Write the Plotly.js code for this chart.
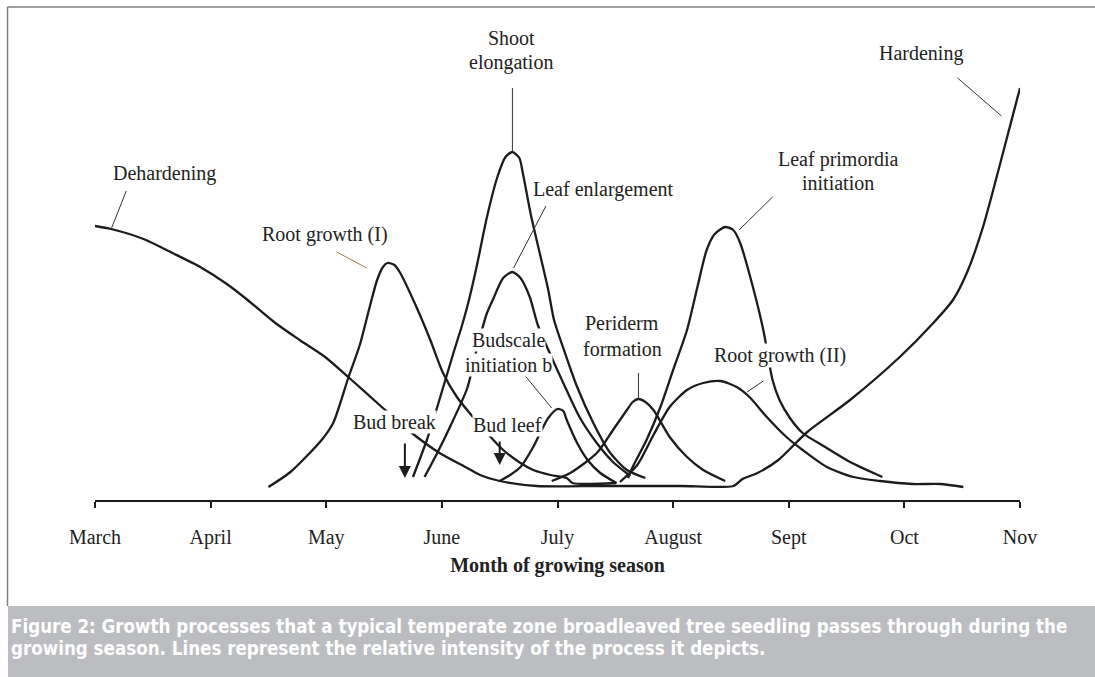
<!DOCTYPE html>
<html>
<head>
<meta charset="utf-8">
<script src="https://cdn.plot.ly/plotly-3.0.1.min.js"></script>
<style>
  html, body { margin: 0; padding: 0; background: #fff; }
  #chart { width: 1095px; height: 677px; }
</style>
</head>
<body>
<div id="chart"></div>
<script>
// months: March = 3 ... Nov = 11, level = relative intensity
const monthTicks = [3, 4, 5, 6, 7, 8, 9, 10, 11];
const monthNames = ['March', 'April', 'May', 'June', 'July', 'August', 'Sept', 'Oct', 'Nov'];

// dehardening -> hardening (one line)
const hardinessMonth = [3.00, 3.14, 3.42, 3.67, 3.91, 4.14, 4.32, 4.56, 4.77, 4.99, 5.19, 5.48, 5.74, 5.98, 6.22, 6.33, 6.50, 6.82, 7.37, 8.06, 8.52, 8.60, 8.73, 8.91, 9.16, 9.53, 9.96, 10.25, 10.42, 10.54, 10.68, 10.83, 11.00];
const hardinessLevel = [68.5, 67.75, 65.25, 61.75, 58.25, 54, 50, 44.25, 40, 35.75, 30.75, 23.25, 16.75, 11.75, 8, 6.25, 4.75, 3.5, 3.5, 3.5, 3.5, 5.25, 6.75, 10, 17, 25, 35.75, 44.25, 50, 56.75, 68.25, 84.25, 103];

const rootOneMonth = [4.50, 4.69, 4.96, 5.06, 5.19, 5.29, 5.38, 5.44, 5.49, 5.53, 5.59, 5.64, 5.78, 5.90, 6.01, 6.13, 6.24, 6.39, 6.53, 6.68, 6.79, 6.94, 7.08, 7.13, 7.51];
const rootOneLevel = [3.25, 7, 15, 19.25, 30.5, 38.75, 48.75, 55, 58.25, 59.25, 58.75, 56.75, 48.25, 40, 31.75, 25.75, 21.75, 16.75, 12.5, 9.25, 7.5, 6.25, 5.5, 4.25, 4.25];

const shootMonth = [5.75, 5.87, 5.96, 6.10, 6.17, 6.23, 6.30, 6.39, 6.48, 6.55, 6.61, 6.67, 6.70, 6.77, 6.85, 6.92, 6.97, 7.05, 7.17, 7.31, 7.45, 7.60, 7.76];
const shootLevel = [5.75, 15, 23.25, 36.75, 43.25, 49.5, 58.25, 70.75, 80.75, 85.75, 87, 85.5, 81.75, 71.25, 61.25, 52.5, 45, 38, 28.25, 19.25, 12, 7.5, 5.5];

const leafEnlargeMonth = [5.85, 5.96, 6.07, 6.22, 6.30, 6.39, 6.44, 6.53, 6.61, 6.68, 6.76, 6.83, 6.94, 7.05, 7.19, 7.34, 7.48, 7.63];
const leafEnlargeLevel = [5.75, 11.75, 18.25, 28, 37.5, 46.75, 50, 55.5, 57, 55.5, 50.75, 43.75, 36.25, 29.25, 20.75, 14.25, 9.5, 6];

const budscaleMonth = [6.50, 6.59, 6.68, 6.79, 6.85, 6.92, 7.00, 7.05, 7.08, 7.17, 7.26, 7.37, 7.51];
const budscaleLevel = [4.75, 6.25, 8.25, 13.25, 16.75, 20.5, 22.75, 22.25, 20, 14.25, 10, 6.75, 4.25];

const peridermMonth = [6.95, 7.11, 7.34, 7.48, 7.60, 7.65, 7.70, 7.76, 7.83, 7.97, 8.12, 8.26, 8.45];
const peridermLevel = [4.75, 6.75, 11.75, 17.5, 22.5, 24.5, 25.25, 24.5, 22.5, 15.75, 10.75, 7.5, 4.75];

const rootTwoMonth = [7.54, 7.69, 7.83, 7.97, 8.12, 8.26, 8.41, 8.55, 8.66, 8.81, 8.98, 9.12, 9.33, 9.56, 9.79, 10.07, 10.31, 10.51];
const rootTwoLevel = [4.5, 8.75, 16.25, 23.25, 27.5, 29.25, 29.75, 28.25, 25.75, 20.75, 15.75, 12.5, 8.25, 5.75, 4.75, 4, 4, 3.25];

const primordiaMonth = [7.61, 7.65, 7.77, 7.89, 8.00, 8.12, 8.21, 8.29, 8.36, 8.45, 8.52, 8.58, 8.69, 8.78, 8.86, 8.92, 9.01, 9.12, 9.30, 9.53, 9.81];
const primordiaLevel = [5.5, 8.25, 15, 23.25, 32.5, 42.5, 53.25, 62.5, 66.5, 68.25, 67.5, 64.25, 53.25, 42.5, 30, 25, 20.5, 16.75, 13.5, 9.5, 5.75];

const curves = [
  [hardinessMonth, hardinessLevel],
  [rootOneMonth, rootOneLevel],
  [shootMonth, shootLevel],
  [leafEnlargeMonth, leafEnlargeLevel],
  [budscaleMonth, budscaleLevel],
  [peridermMonth, peridermLevel],
  [rootTwoMonth, rootTwoLevel],
  [primordiaMonth, primordiaLevel],
];

const traces = curves.map(([x, y]) => ({
  x: x,
  y: y,
  mode: 'lines',
  hoverinfo: 'skip',
  line: {
    color: '#1c1c1c',
    width: 2.3,
    shape: 'spline',
    smoothing: 0.7,
  }
}));

const serif = 'Liberation Serif, Times New Roman, serif';

// label text, position (month, level)
const labels = [
  ['Dehardening', 3.60, 81.75],
  ['Root growth (I)', 4.99, 66.5],
  ['Shoot', 6.60, 115.5],
  ['elongation', 6.60, 109.5],
  ['Leaf enlargement', 7.40, 77.75],
  ['Hardening', 10.14, 111.75],
  ['Leaf primordia', 9.43, 85.25],
  ['initiation', 9.43, 79.25],
  ['Budscale', 6.58, 40],
  ['initiation b', 6.58, 33.75],
  ['Periderm', 7.56, 44.25],
  ['formation', 7.56, 37.75],
  ['Bud break', 5.59, 19.5],
  ['Bud leef', 6.57, 18.75],
  ['Root growth (II)', 8.92, 36.25],
];

// leader lines: [month0, level0, month1, level1, colour]
const leaders = [
  [3.27, 77.25, 3.14, 67.75, '#333'],
  [5.09, 62, 5.35, 58, '#a8763e'],
  [6.61, 103, 6.61, 87, '#333'],
  [6.90, 73.5, 6.62, 58, '#333'],
  [8.86, 75.75, 8.57, 67.5, '#333'],
  [10.46, 105.5, 10.84, 96, '#333'],
  [6.70, 31.75, 6.95, 23, '#333'],
  [7.70, 31.75, 7.70, 25.25, '#333'],
  [8.78, 29.75, 8.64, 27, '#333'],
];

// event arrows: [month, fromLevel, toLevel]
const arrows = [
  [5.68, 14.5, 5.5],
  [6.50, 15, 8.75],
];

const annotations = labels.map(([t, x, y]) => ({
  text: t,
  x: x,
  y: y,
  xref: 'x',
  yref: 'y',
  showarrow: false,
  bgcolor: '#ffffff',
  borderpad: 0,
  font: {family: serif, size: 20, color: '#222'},
}));

arrows.forEach(([x, y0, y1]) => {
  annotations.push({
    text: '',
    x: x,
    y: y1,
    ax: x,
    ay: y0,
    xref: 'x',
    yref: 'y',
    axref: 'x',
    ayref: 'y',
    showarrow: true,
    arrowhead: 2,
    arrowsize: 1.2,
    arrowwidth: 2,
    arrowcolor: '#1c1c1c',
  });
});

const captionFont = {family: 'DejaVu Sans Condensed, DejaVu Sans, sans-serif', size: 18.6, color: '#ffffff'};
annotations.push({
  text: '<b>Figure 2: Growth processes that a typical temperate zone broadleaved tree seedling passes through during the</b>',
  xref: 'paper', yref: 'paper', x: -0.0925, y: -0.2565,
  xanchor: 'left', yanchor: 'middle', showarrow: false, font: captionFont,
});
annotations.push({
  text: '<b>growing season. Lines represent the relative intensity of the process it depicts.</b>',
  xref: 'paper', yref: 'paper', x: -0.0925, y: -0.301,
  xanchor: 'left', yanchor: 'middle', showarrow: false, font: captionFont,
});

const shapes = leaders.map(([x0, y0, x1, y1, c]) => ({
  type: 'line', xref: 'x', yref: 'y',
  x0: x0, y0: y0, x1: x1, y1: y1,
  line: {color: c, width: 1},
}));

// figure frame and caption band
shapes.push({
  type: 'rect', xref: 'paper', yref: 'paper',
  x0: -0.0941, x1: 1.09, y0: -0.359, y1: -0.215,
  fillcolor: '#bcbdc0', line: {width: 0}, layer: 'below',
});
shapes.push({
  type: 'line', xref: 'paper', yref: 'paper',
  x0: -0.0946, x1: -0.0946, y0: -0.215, y1: 1,
  line: {color: '#808080', width: 1.5},
});
shapes.push({
  type: 'line', xref: 'paper', yref: 'paper',
  x0: -0.0946, x1: 1.09, y0: 1, y1: 1,
  line: {color: '#808080', width: 1.5},
});

const layout = {
  width: 1095,
  height: 677,
  margin: {l: 95, r: 75, t: 7, b: 177},
  paper_bgcolor: '#ffffff',
  plot_bgcolor: '#ffffff',
  showlegend: false,
  xaxis: {
    range: [3, 11],
    tickvals: monthTicks,
    ticktext: monthNames,
    showgrid: false,
    zeroline: false,
    showline: true,
    linecolor: '#1c1c1c',
    linewidth: 2,
    ticks: 'outside',
    ticklen: 6,
    tickwidth: 2,
    tickcolor: '#1c1c1c',
    ticklabelstandoff: 12,
    tickfont: {family: serif, size: 20, color: '#222'},
    title: {
      text: '<b>Month of growing season</b>',
      font: {family: serif, size: 20, color: '#222'},
      standoff: 10,
    },
  },
  yaxis: {
    range: [0, 123.25],
    visible: false,
  },
  shapes: shapes,
  annotations: annotations,
};

Plotly.newPlot('chart', traces, layout, {displayModeBar: false, staticPlot: true});
</script>
</body>
</html>
